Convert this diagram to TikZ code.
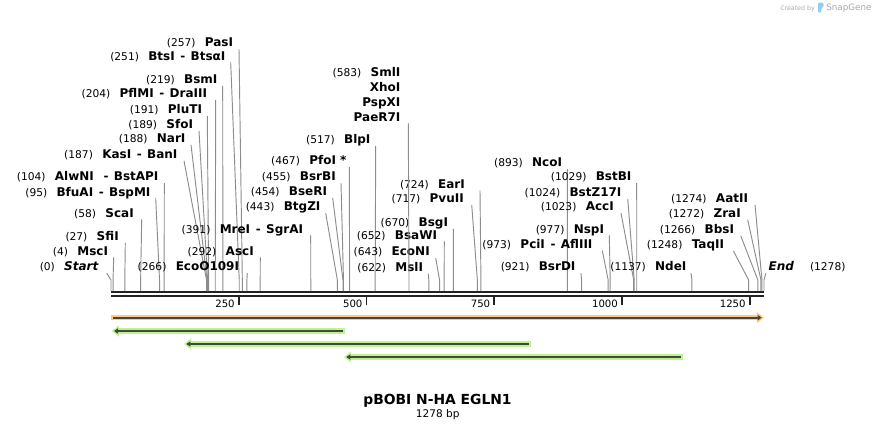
\documentclass[tikz,border=0pt]{standalone}
\usepackage{fontspec}
\setmainfont{DejaVu Sans}
\usepackage{tikz}
\usetikzlibrary{arrows.meta,calc}
\definecolor{featorange}{HTML}{FFC97A}
\definecolor{featgreen}{HTML}{BEF48E}
\definecolor{featline}{HTML}{454545}
\definecolor{leadergray}{HTML}{8C8C8C}
\definecolor{mapblack}{HTML}{222222}
\definecolor{snapgray}{HTML}{A8A8A8}
\definecolor{snapblue}{HTML}{8ECFF2}
\newcommand{\alsocut}{\hspace{4.2pt}-\hspace{4pt}}
\newcommand{\enzname}[1]{{\fontsize{9}{10}\selectfont\bfseries #1}}
\newcommand{\cutsite}[2]{{\fontsize{8}{9}\selectfont(#1)}\hspace{7pt}\enzname{#2}}
\tikzset{
  enzlabel/.style={anchor=base east, inner sep=0pt, text depth=1.5pt},
  leaderline/.style={leadergray, line width=0.7pt},
  mapline/.style={mapblack, line width=1.9pt},
  tickmark/.style={mapblack, line width=1.4pt},
  ticklabel/.style={anchor=base east, inner sep=0pt, font=\fontsize{7.6}{9}\selectfont},
  featband/.style={#1, line width=4.1pt, -{Triangle[length=5.3pt,width=8pt]}},
  featarrow/.style={featline, line width=1.4pt, -{Triangle[length=3pt,width=3.8pt]}}
}

\begin{document}
\begin{tikzpicture}[x=0.75pt,y=-0.75pt]
  \useasboundingbox (0,0) rectangle (876,430);
  \draw[mapline] (111,292.2) -- (764,292.2);
  \draw[mapline] (111,296) -- (764,296);
  \foreach \t in {250,500,750,1000,1250}{
    \pgfmathsetmacro{\tx}{111+\t*0.51095}
    \draw[tickmark] (\tx,297) -- (\tx,304.5);
    \node[ticklabel] (t\t) at (\tx-3.8,307.6) {\t};
  }
  \foreach \n/\bp/\xe/\yc/\lx/\txt in {
      pas/257/233.3/42.7/239/{PasI},
      bts/251/225.7/56/230.7/{BtsI\alsocut BtsαI},
      bsm/219/217.7/79.3/222.7/{BsmI},
      pfl/204/207.3/93.3/215.7/{PflMI\alsocut DraIII},
      plu/191/202.3/109.3/207.3/{PluTI},
      sfo/189/193.3/124.3/199/{SfoI},
      nar/188/185.7/138.3/191/{NarI},
      kas/187/177.7/154.3/184/{KasI\alsocut BanI},
      alw/104/158.7/176.7/164.3/{AlwNI\hspace{3pt}\alsocut BstAPI},
      bfu/95/150.7/192/155.7/{BfuAI\alsocut BspMI},
      sca/58/134/213/141.7/{ScaI},
      sfi/27/119/236.7/125.3/{SfiI},
      msc/4/108.3/251/113.7/{MscI},
      start/0/99/266.7/106.7/{\textit{Start}},
      eco/266/239.3/266.7/247.3/{EcoO109I},
      asc/292/254/251/260.3/{AscI},
      mre/391/303.3/229/310.7/{MreI\alsocut SgrAI},
      btg/443/320.7/206.7/325.7/{BtgZI},
      bse/454/327.3/191.7/332.7/{BseRI},
      bsr/455/336/176.7/341/{BsrBI},
      pfo/467/346.7/160.7/349.3/{PfoI *},
      blp/517/370.7/139.3/375.7/{BlpI},
      msl/622/423.3/267.3/428.3/{MslI},
      ecn/643/430/251.7/435.7/{EcoNI},
      bsa/652/437.3/235/444.3/{BsaWI},
      bsg/670/448.3/222.3/453.3/{BsgI},
      pvu/717/464/198.3/471.7/{PvuII},
      ear/724/465/184/480/{EarI},
      nco/893/562.3/162.7/567.3/{NcoI},
      bsd/921/575.7/266.7/581/{BsrDI},
      pci/973/592.7/244/602.3/{PciI\alsocut AflIII},
      nsp/977/604.3/229/609.3/{NspI},
      acc/1023/614/206.7/621/{AccI},
      bsz/1024/621.7/192.3/627.7/{BstZ17I},
      bsb/1029/631.7/176.7/636.7/{BstBI},
      nde/1137/686.7/266.7/691/{NdeI},
      taq/1248/724.3/244.3/733.3/{TaqII},
      bbs/1266/734.3/229.3/740.7/{BbsI},
      zra/1272/741/213.3/747.7/{ZraI},
      aat/1274/748.3/198.3/755/{AatII}}{
    \pgfmathsetmacro{\bx}{111+\bp*0.51095}
    \pgfmathsetmacro{\dx}{(\lx-\xe)*0.75}
    \node[enzlabel] (e\n) at (\xe,\yc+4.2) {\cutsite{\bp}{\txt}};
    \coordinate (b\n) at (\bx,291);
    \draw[leaderline] ([xshift=\dx pt]e\n.south east) -- ([yshift=8.25pt]b\n) -- (b\n);
  }
  \node[enzlabel] (esml) at (400.7,76.2) {\cutsite{583}{SmlI}};
  \node[enzlabel] (exho) at (400.7,91.2) {\enzname{XhoI}};
  \node[enzlabel] (epsp) at (400.7,106.2) {\enzname{PspXI}};
  \node[enzlabel] (epae) at (400.7,121.2) {\enzname{PaeR7I}};
  \coordinate (bsml) at (409,291);
  \draw[leaderline] ([xshift=5.7pt]epae.south east) -- ([yshift=8.25pt]bsml) -- (bsml);
  \node[anchor=base west, inner sep=0pt, text depth=1.5pt] (eend) at (768.3,270.9)
    {\enzname{\textit{End}}\hspace{12pt}{\fontsize{8}{9}\selectfont(1278)}};
  \coordinate (bend) at (764,291);
  \draw[leaderline] ([xshift=-1.9pt]eend.south west) -- ([yshift=8.25pt]bend) -- (bend);
  \foreach \xa/\xb/\yf/\col in {111/764/317.7/featorange, 345/111.7/331/featgreen,
      531/184/344/featgreen, 682.7/344/357/featgreen}{
    \pgfmathsetmacro{\sg}{(\xb>\xa) ? 1 : -1}
    \draw[featband=\col] (\xa,\yf) -- (\xb,\yf);
    \draw[featarrow] (\xa+2*\sg,\yf) -- (\xb-2.3*\sg,\yf);
  }
  \node[anchor=base, inner sep=0pt, font=\fontsize{10.4}{12}\selectfont\bfseries] (title) at (437.5,404) {pBOBI N-HA EGLN1};
  \node[anchor=base, inner sep=0pt, font=\fontsize{7.9}{9}\selectfont] (size) at (437.7,417.1) {1278 bp};
  \node[anchor=base west, inner sep=0pt, snapgray, font=\fontsize{4.7}{5}\selectfont] (created) at (780,10) {Created by};
  \fill[snapblue, rounded corners=0.8pt] (818,2.5) -- (823,2.5) -- (824,6) -- (821.3,8.5) -- (821.3,12.5) -- (818,12.5) -- cycle;
  \node[anchor=base west, inner sep=0pt, snapgray, font=\fontsize{6.6}{7}\selectfont] (snapgene) at (826,10.5) {SnapGene};
\end{tikzpicture}
\end{document}
